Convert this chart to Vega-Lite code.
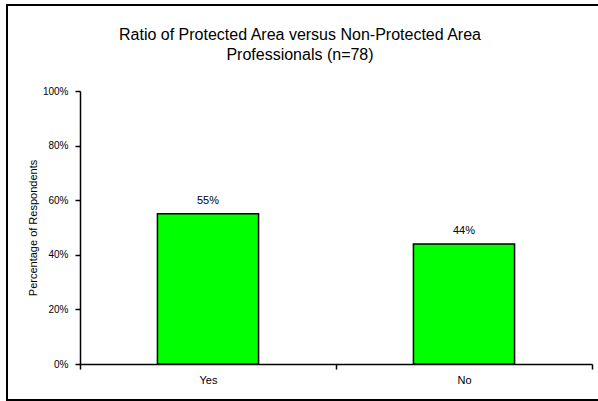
{
  "$schema": "https://vega.github.io/schema/vega-lite/v6.json",
  "autosize": {"type": "none"},
  "padding": {"left": 7, "top": 5, "right": -3, "bottom": 1},
  "width": 594,
  "height": 395,
  "background": "white",
  "config": {
    "view": {"stroke": "black", "strokeWidth": 2},
    "font": "Liberation Sans"
  },
  "title": {
    "text": ["Ratio of Protected Area versus Non-Protected Area", "Professionals (n=78)"],
    "font": "Liberation Sans",
    "fontSize": 16,
    "fontWeight": "normal",
    "color": "black",
    "anchor": "middle",
    "offset": -58,
    "dx": -4,
    "lineHeight": 20
  },
  "data": {"values": [
    {"answer": "Yes", "share": 0.55},
    {"answer": "No", "share": 0.44}
  ]},
  "encoding": {
    "x": {
      "field": "answer", "type": "nominal", "sort": null,
      "scale": {"range": [73, 585], "paddingInner": 0, "paddingOuter": 0},
      "axis": {
        "offset": -36, "tickBand": "extent", "labelAngle": 0, "title": null,
        "domainColor": "black", "domainWidth": 1.5, "tickColor": "black", "tickSize": 5, "tickWidth": 1.5,
        "labelFontSize": 11, "labelPadding": 5, "labelColor": "black", "labelFont": "Liberation Sans"
      }
    },
    "y": {
      "field": "share", "type": "quantitative",
      "scale": {"domain": [0, 1], "range": [359, 86], "nice": false},
      "axis": {
        "offset": -73, "values": [0, 0.2, 0.4, 0.6, 0.8, 1], "format": ".0%", "grid": false,
        "domainColor": "black", "domainWidth": 1.5, "tickColor": "black", "tickSize": 5, "tickWidth": 1.5,
        "labelFontSize": 10, "labelPadding": 7, "labelColor": "black", "labelFont": "Liberation Sans",
        "title": "Percentage of Respondents", "titleFontSize": 11, "titleFontWeight": "normal",
        "titleColor": "black", "titleFont": "Liberation Sans", "titlePadding": 4
      }
    }
  },
  "layer": [
    {"mark": {"type": "bar", "fill": "#00FF00", "stroke": "black", "strokeWidth": 1.5, "width": {"band": 0.395}}},
    {"mark": {"type": "text", "dy": -8, "fontSize": 11, "baseline": "bottom", "color": "black", "font": "Liberation Sans"},
     "encoding": {"text": {"field": "share", "format": ".0%"}}}
  ]
}
